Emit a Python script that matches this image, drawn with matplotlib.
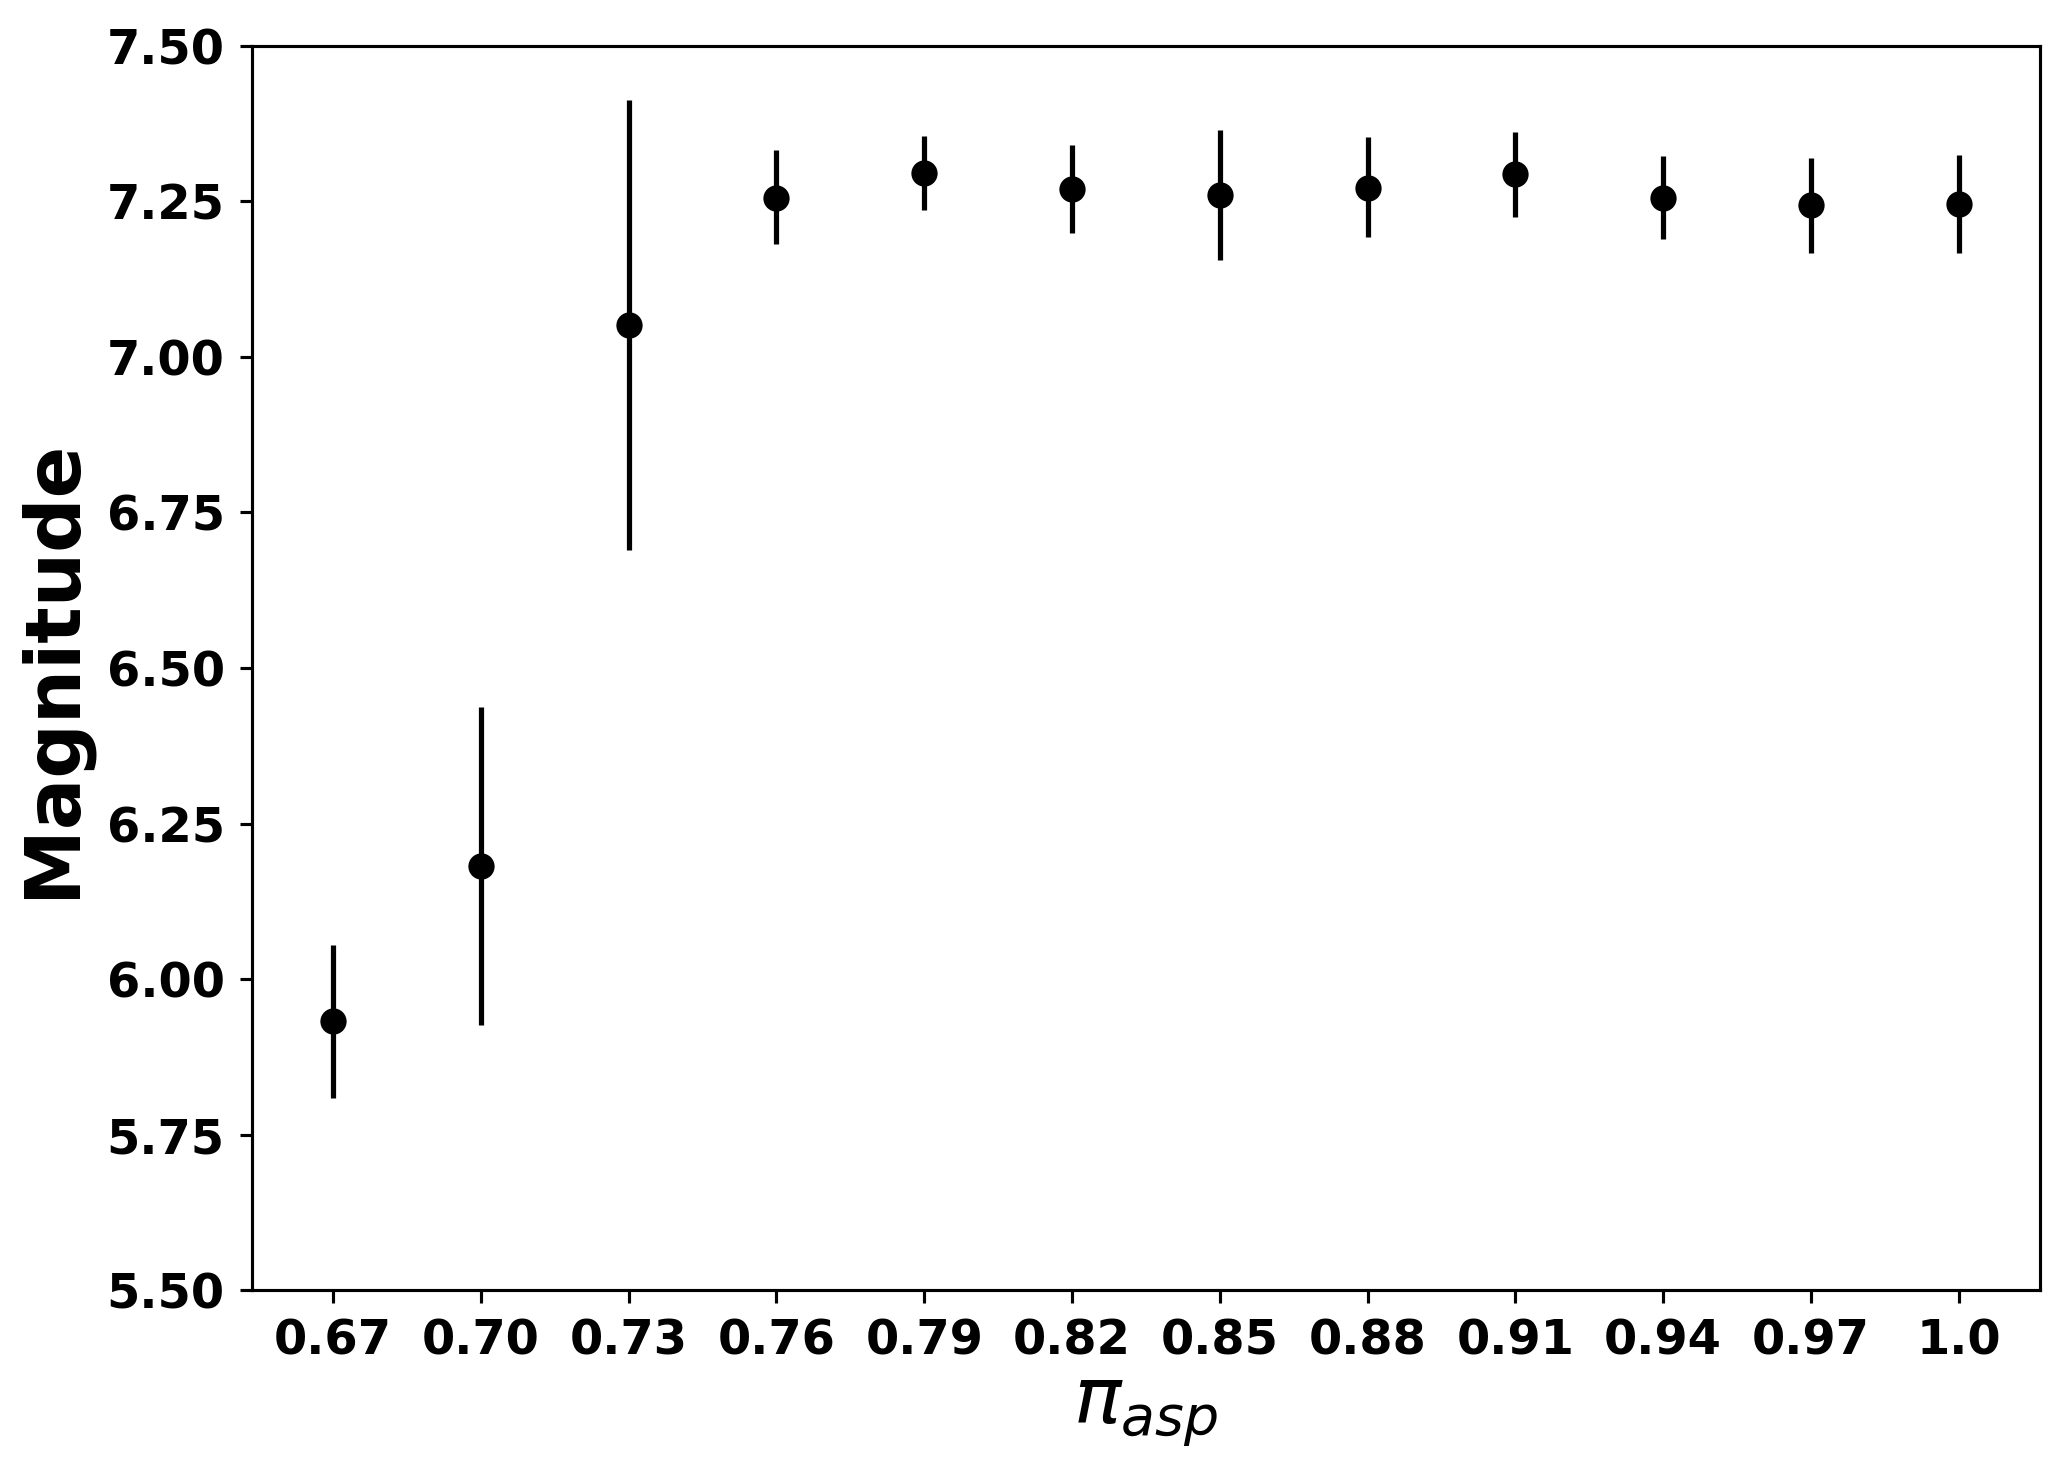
import matplotlib
matplotlib.use("Agg")
import matplotlib.pyplot as plt
import numpy as np

categories = ["0.67", "0.70", "0.73", "0.76", "0.79", "0.82", "0.85", "0.88", "0.91", "0.94", "0.97", "1.0"]
magnitude = [5.932, 6.182, 7.051, 7.256, 7.296, 7.270, 7.260, 7.272, 7.294, 7.256, 7.244, 7.246]
err_low = [0.123, 0.255, 0.362, 0.075, 0.060, 0.071, 0.105, 0.079, 0.069, 0.066, 0.077, 0.079]
err_high = [0.123, 0.255, 0.362, 0.076, 0.059, 0.070, 0.104, 0.081, 0.068, 0.066, 0.075, 0.079]
yticks = [5.50, 5.75, 6.00, 6.25, 6.50, 6.75, 7.00, 7.25, 7.50]

fig = plt.figure(figsize=(2067/300, 1473/300), dpi=300)
ax = fig.add_axes([0.1218, 0.124, 0.987 - 0.1218, 0.969 - 0.124])

x = np.arange(len(categories))
ax.errorbar(x, magnitude, yerr=[err_low, err_high], fmt='o', color='black',
            ecolor='black', elinewidth=1.25, capsize=0, markersize=5.3)

ax.set_xlim(-0.55, len(categories) - 1 + 0.55)
ax.set_ylim(5.5, 7.5)
ax.set_xticks(x)
ax.set_xticklabels(categories)
ax.set_yticks(yticks)
ax.set_yticklabels([f"{v:.2f}" for v in yticks])
for lab in ax.get_xticklabels() + ax.get_yticklabels():
    lab.set_fontweight('bold')
    lab.set_fontsize(11.5)
ax.tick_params(length=3.0, width=0.75)
for s in ax.spines.values():
    s.set_linewidth(0.75)

ax.set_ylabel("Magnitude", fontsize=18.3, fontweight='bold')
ax.set_xlabel(r"$\pi_{asp}$", fontsize=19, labelpad=2)

fig.savefig("out.png", dpi=300)
